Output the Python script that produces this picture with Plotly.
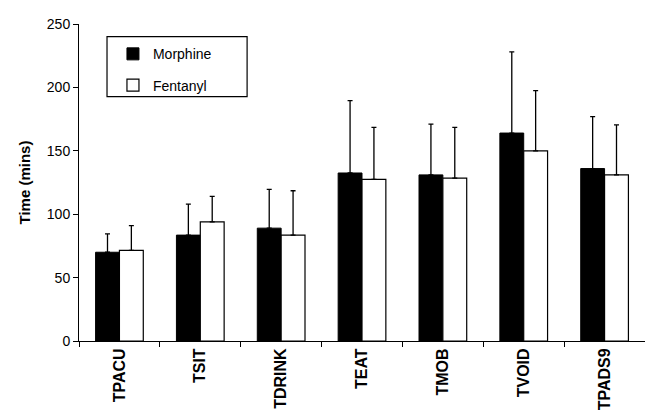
import plotly.graph_objects as go

categories = ["TPACU", "TSIT", "TDRINK", "TEAT", "TMOB", "TVOID", "TPADS9"]
morphine = [70, 83.5, 89, 132.5, 131, 164, 136]
morphine_err = [14.5, 24.5, 30.5, 57, 40, 64, 41]
fentanyl = [71.5, 94, 83.5, 127.5, 128.5, 150, 131]
fentanyl_err = [19.5, 20, 35, 41, 40, 47.5, 39.5]

font_family = "Liberation Sans, Arial, sans-serif"

fig = go.Figure()
fig.add_trace(go.Bar(
    name="Morphine", x=categories, y=morphine, legendgroup="m",
    marker=dict(color="black", line=dict(color="black", width=1)),
    error_y=dict(type="data", array=morphine_err, arrayminus=[0]*len(categories),
                 symmetric=False, color="black", thickness=1.3, width=2.5),
))
fig.add_trace(go.Bar(
    name="Fentanyl", x=categories, y=fentanyl, legendgroup="f",
    marker=dict(color="white", line=dict(color="black", width=1.2)),
    error_y=dict(type="data", array=fentanyl_err, arrayminus=[0]*len(categories),
                 symmetric=False, color="black", thickness=1.3, width=2.5),
))

fig.add_shape(type="rect", xref="paper", yref="paper",
              x0=0.0495, x1=0.297, y0=0.771, y1=0.96,
              line=dict(color="black", width=1.2), fillcolor="rgba(0,0,0,0)")

# page body has an 8px default margin, so the figure is sized to fit inside the window
fig.update_layout(
    width=645, height=410,
    margin=dict(l=71, r=8, t=11, b=77),
    paper_bgcolor="white", plot_bgcolor="white",
    barmode="group", bargap=0.41, bargroupgap=0,
    font=dict(family=font_family, color="black", size=14),
    showlegend=True,
    legend=dict(
        x=0.06, y=0.955, xanchor="left", yanchor="top",
        borderwidth=0, bgcolor="rgba(0,0,0,0)",
        font=dict(size=14, family=font_family),
        traceorder="grouped", tracegroupgap=10, itemwidth=30,
    ),
    yaxis=dict(
        range=[0, 250], tickvals=[0, 50, 100, 150, 200, 250],
        showgrid=False, zeroline=False,
        showline=True, linecolor="black", linewidth=1,
        ticks="outside", ticklen=5, tickcolor="black",
        tickfont=dict(size=14),
        title=dict(text="<b>Time (mins)</b>", font=dict(size=15), standoff=12),
    ),
    xaxis=dict(
        showgrid=False, showline=True, linecolor="black", linewidth=1,
        ticks="outside", ticklen=5, tickcolor="black", tickson="boundaries",
        tickangle=-90, tickfont=dict(size=16),
        tickvals=categories, ticktext=["<b>%s</b>" % c for c in categories],
    ),
)

fig.write_html("out.html")
